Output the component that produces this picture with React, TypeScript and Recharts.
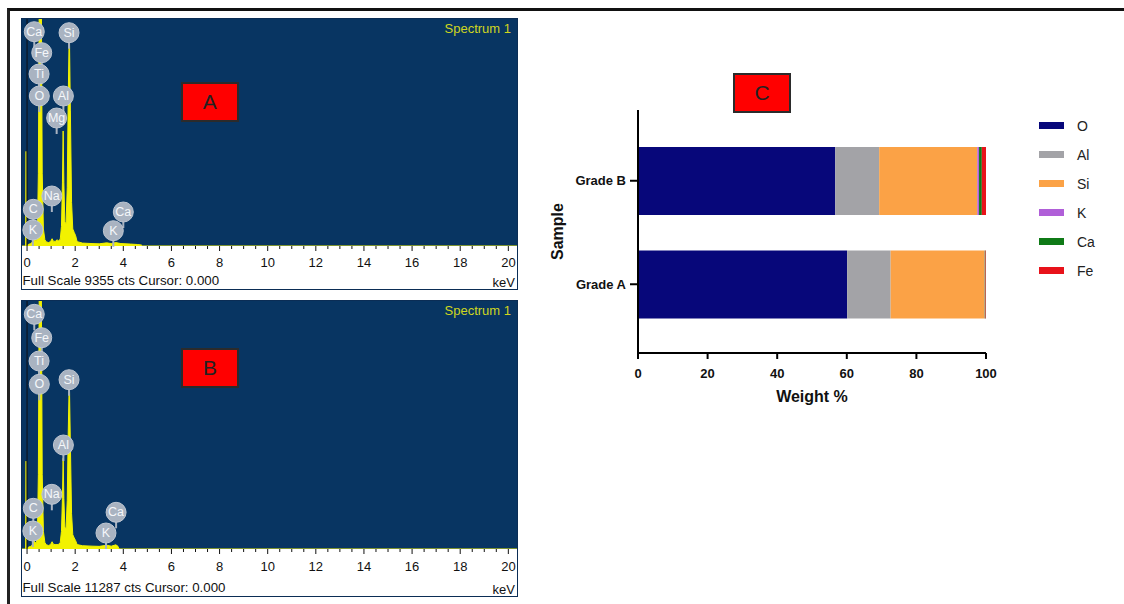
import React from 'react';
import {
  ComposedChart,
  Area,
  XAxis,
  YAxis,
  CartesianGrid,
  ReferenceDot,
  ReferenceLine,
  BarChart,
  Bar,
  Legend,
} from 'recharts';

// ---------- EDS spectra (keV, counts) ----------
const energyTicks = [
  0, 0.5, 1, 1.5, 2, 2.5, 3, 3.5, 4, 4.5, 5, 5.5, 6, 6.5, 7, 7.5, 8, 8.5, 9, 9.5, 10,
  10.5, 11, 11.5, 12, 12.5, 13, 13.5, 14, 14.5, 15, 15.5, 16, 16.5, 17, 17.5, 18, 18.5,
  19, 19.5, 20,
];
const energyLabels = [0, 2, 4, 6, 8, 10, 12, 14, 16, 18, 20];

const fullScaleA = 9355;
const fullScaleB = 11287;

const spectrumA: [number, number][] = [
  [-0.21, 0], [-0.06, 0], [-0.04, 3900], [-0.02, 0], [0.05, 60], [0.15, 100], [0.22, 160],
  [0.26, 420], [0.28, 720], [0.31, 300], [0.38, 220], [0.43, 500], [0.47, 3000], [0.5, 9000],
  [0.52, 13000], [0.58, 13000], [0.6, 9000], [0.63, 3000], [0.68, 700], [0.74, 260], [0.8, 170],
  [0.9, 140], [0.98, 190], [1.04, 300], [1.1, 190], [1.2, 200], [1.25, 260], [1.3, 210],
  [1.38, 280], [1.43, 800], [1.47, 2600], [1.5, 4740], [1.53, 2600], [1.57, 1000], [1.62, 900],
  [1.67, 2400], [1.71, 6000], [1.745, 8370], [1.765, 8370], [1.8, 5600], [1.85, 1800], [1.9, 700],
  [1.96, 560], [2.02, 420], [2.08, 180], [2.3, 120], [2.7, 100], [3.0, 90], [3.31, 130],
  [3.5, 100], [3.69, 140], [3.9, 100], [4.3, 80], [4.6, 60], [4.75, 40], [4.8, 0], [20.36, 0],
];

const spectrumB: [number, number][] = [
  [-0.21, 0], [-0.06, 0], [-0.04, 4000], [-0.02, 0], [0.05, 80], [0.15, 120], [0.22, 180],
  [0.26, 480], [0.28, 800], [0.31, 330], [0.38, 260], [0.43, 600], [0.47, 3400], [0.5, 10500],
  [0.52, 15000], [0.58, 15000], [0.6, 10500], [0.63, 3400], [0.68, 800], [0.74, 300], [0.8, 190],
  [0.9, 160], [0.98, 210], [1.04, 330], [1.1, 210], [1.2, 200], [1.3, 200], [1.38, 300],
  [1.43, 800], [1.47, 2300], [1.5, 4130], [1.53, 2300], [1.57, 1000], [1.62, 900], [1.67, 2200],
  [1.71, 5200], [1.745, 7160], [1.765, 7160], [1.8, 4800], [1.85, 1600], [1.9, 650], [1.96, 500],
  [2.02, 380], [2.08, 200], [2.3, 150], [2.7, 130], [3.0, 120], [3.31, 170], [3.5, 130],
  [3.69, 190], [3.78, 120], [3.82, 0], [20.36, 0],
];

// element badges: [element, keV, counts]
const badgesA: [string, number, number][] = [
  ['Ca', 0.3, 8832], ['Fe', 0.61, 7966], ['Ti', 0.5, 7088], ['O', 0.51, 6182],
  ['Al', 1.51, 6182], ['Mg', 1.23, 5275], ['Si', 1.745, 8790], ['Na', 1.03, 2060],
  ['C', 0.26, 1512], ['K', 0.24, 659], ['Ca', 4.0, 1401], ['K', 3.585, 630],
];
const badgesB: [string, number, number][] = [
  ['Ca', 0.3, 10681], ['Fe', 0.61, 9616], ['Ti', 0.5, 8556], ['O', 0.51, 7496],
  ['Si', 1.745, 7705], ['Al', 1.51, 4733], ['Na', 1.03, 2489], ['C', 0.26, 1852],
  ['K', 0.24, 819], ['Ca', 3.7, 1670], ['K', 3.28, 728],
];

// ---------- Weight % bar chart ----------
const samples = ['Grade B', 'Grade A'];
const elements = ['O', 'Al', 'Si', 'K', 'Ca', 'Fe'];
const elementColors = ['#07077a', '#a3a3a7', '#fba246', '#b05fd8', '#0f7a17', '#e8121a'];
const oWt = [56.7, 60.1];
const alWt = [12.6, 12.5];
const siWt = [28.2, 27.0];
const kWt = [0.5, 0.05];
const caWt = [0.8, 0.2];
const feWt = [1.2, 0.15];
const weightTicks = [0, 20, 40, 60, 80, 100];

const barData = samples.map((name, i) => ({
  name,
  O: oWt[i],
  Al: alWt[i],
  Si: siWt[i],
  K: kWt[i],
  Ca: caWt[i],
  Fe: feWt[i],
}));

const BLUE = '#083562';
const YELLOW = '#f2f200';
const FONT = "'Liberation Sans', Arial, Helvetica, sans-serif";

const EnergyTick = (props: any) => {
  const { x, y, payload, labelDy } = props;
  const v = payload.value;
  const isLabel = energyLabels.indexOf(v) >= 0;
  const last = v === 20;
  return (
    <g>
      <line x1={x} x2={x} y1={y} y2={y + (isLabel ? 5 : 3)} stroke="#111" strokeWidth={1} />
      {isLabel && (
        <text
          x={last ? x + 7.5 : x}
          y={y + labelDy}
          textAnchor={last ? 'end' : 'middle'}
          dominantBaseline="central"
          fontSize={13}
          fill="#111"
        >
          {v}
        </text>
      )}
    </g>
  );
};

const makeBadge = (el: string) => (p: any) => (
  <g>
    <line x1={p.cx} x2={p.cx} y1={p.cy + 8} y2={p.cy + 16} stroke="#a9b3c1" strokeWidth={2} />
    <circle cx={p.cx} cy={p.cy} r={10} fill="#a9b3c1" stroke="#bfc7d2" strokeWidth={1} />
    <text
      x={p.cx}
      y={p.cy}
      textAnchor="middle"
      dominantBaseline="central"
      fontSize={12.5}
      fill="#f5f7fa"
    >
      {el}
    </text>
  </g>
);

function SpectrumPanel(props: {
  left: number;
  top: number;
  width: number;
  height: number;
  plotHeight: number;
  fullScale: number;
  points: [number, number][];
  badges: [string, number, number][];
  labelDy: number;
}) {
  const { left, top, width, height, plotHeight, fullScale, points, badges, labelDy } = props;
  const data = points.map(([e, c]) => ({ e, c }));
  const innerW = width - 2;
  const innerH = height - 2;
  return (
    <div
      style={{
        position: 'absolute',
        left,
        top,
        width,
        height,
        border: '1px solid #0b2d55',
        boxSizing: 'border-box',
        background: '#fff',
      }}
    >
      <ComposedChart
        width={innerW}
        height={innerH}
        data={data}
        margin={{ top: 0, right: 0, bottom: 0, left: 0 }}
      >
        <CartesianGrid horizontal={false} vertical={false} fill={BLUE} stroke="none" />
        <XAxis
          type="number"
          dataKey="e"
          domain={[-0.21, 20.36]}
          allowDataOverflow
          ticks={energyTicks}
          interval={0}
          height={innerH - plotHeight}
          axisLine={false}
          tickLine={false}
          tickSize={0}
          tickMargin={0}
          tick={<EnergyTick labelDy={labelDy} />}
        />
        <YAxis hide type="number" dataKey="c" domain={[0, fullScale]} allowDataOverflow />
        <Area
          type="linear"
          dataKey="c"
          stroke={YELLOW}
          strokeWidth={1}
          fill={YELLOW}
          fillOpacity={1}
          dot={false}
          activeDot={false}
          isAnimationActive={false}
        />
        <ReferenceLine x={0} stroke="#0d1420" strokeWidth={1.2} />
        {badges.map(([el, e, c], i) => (
          <ReferenceDot key={i} x={e} y={c} r={10} shape={makeBadge(el)} />
        ))}
      </ComposedChart>
    </div>
  );
}

const renderLegend = () => (
  <div>
    {elements.map((el, i) => (
      <div key={el} style={{ height: 29.06, display: 'flex', alignItems: 'center' }}>
        <div style={{ width: 25, height: 7, background: elementColors[i] }} />
        <div style={{ marginLeft: 13, fontSize: 14, color: '#222', lineHeight: '14px' }}>{el}</div>
      </div>
    ))}
  </div>
);

const letterBox = (letter: string, left: number, top: number, width: number, height: number) => (
  <div
    style={{
      position: 'absolute',
      left,
      top,
      width,
      height,
      background: '#ff0000',
      border: '2px solid #2b2b2b',
      boxSizing: 'border-box',
      display: 'flex',
      alignItems: 'center',
      justifyContent: 'center',
      fontSize: 21,
      color: '#222',
    }}
  >
    {letter}
  </div>
);

export default function App() {
  return (
    <div
      style={{
        position: 'absolute',
        left: 0,
        top: 0,
        width: 1124,
        height: 604,
        background: '#fff',
        overflow: 'hidden',
        fontFamily: FONT,
      }}
    >
      {/* outer frame */}
      <div
        style={{
          position: 'absolute',
          left: 7,
          top: 8,
          width: 1117,
          height: 596,
          borderTop: '3px solid #111',
          borderLeft: '3px solid #222',
          boxSizing: 'border-box',
        }}
      />

      <SpectrumPanel
        left={21}
        top={18}
        width={497}
        height={272}
        plotHeight={227}
        fullScale={fullScaleA}
        points={spectrumA}
        badges={badgesA}
        labelDy={16.5}
      />
      <SpectrumPanel
        left={21}
        top={300}
        width={497}
        height={297}
        plotHeight={248}
        fullScale={fullScaleB}
        points={spectrumB}
        badges={badgesB}
        labelDy={17.5}
      />

      {/* spectrum texts */}
      <div style={{ position: 'absolute', left: 400, top: 21.6, width: 111, textAlign: 'right', fontSize: 13, lineHeight: '13px', color: '#cfd61f' }}>
        Spectrum 1
      </div>
      <div style={{ position: 'absolute', left: 400, top: 303.6, width: 111, textAlign: 'right', fontSize: 13, lineHeight: '13px', color: '#cfd61f' }}>
        Spectrum 1
      </div>
      <div style={{ position: 'absolute', left: 22.5, top: 273.8, fontSize: 13.3, lineHeight: '13.3px', color: '#111', whiteSpace: 'nowrap' }}>
        {`Full Scale ${fullScaleA} cts Cursor: 0.000`}
      </div>
      <div style={{ position: 'absolute', left: 22.5, top: 580.8, fontSize: 13.3, lineHeight: '13.3px', color: '#111', whiteSpace: 'nowrap' }}>
        {`Full Scale ${fullScaleB} cts Cursor: 0.000`}
      </div>
      <div style={{ position: 'absolute', left: 470, top: 276, width: 45, textAlign: 'right', fontSize: 13, lineHeight: '13px', color: '#111' }}>
        keV
      </div>
      <div style={{ position: 'absolute', left: 470, top: 582.6, width: 45, textAlign: 'right', fontSize: 13, lineHeight: '13px', color: '#111' }}>
        keV
      </div>

      {/* bar chart C */}
      <div style={{ position: 'absolute', left: 540, top: 60, width: 580, height: 360 }}>
        <BarChart
          layout="vertical"
          width={580}
          height={360}
          data={barData}
          margin={{ top: 50, right: 134, bottom: 37, left: 0 }}
          barSize={68}
        >
          <XAxis
            type="number"
            domain={[0, 100]}
            allowDataOverflow
            ticks={weightTicks}
            interval={0}
            height={30}
            tickSize={6}
            tickMargin={10}
            axisLine={{ stroke: '#000', strokeWidth: 2 }}
            tickLine={{ stroke: '#000', strokeWidth: 2 }}
            tick={{ fontSize: 13, fontWeight: 700, fill: '#111' }}
            label={{
              value: 'Weight %',
              position: 'bottom',
              offset: 8,
              fontSize: 16,
              fontWeight: 700,
              fill: '#111',
            }}
          />
          <YAxis
            type="category"
            dataKey="name"
            width={98}
            padding={{ top: 19, bottom: 17 }}
            tickSize={8}
            tickMargin={4}
            axisLine={{ stroke: '#000', strokeWidth: 2 }}
            tickLine={{ stroke: '#000', strokeWidth: 2 }}
            tick={{ fontSize: 13, fontWeight: 700, fill: '#111' }}
            label={{
              value: 'Sample',
              angle: -90,
              position: 'insideLeft',
              offset: 17,
              fontSize: 16,
              fontWeight: 700,
              fill: '#111',
              style: { textAnchor: 'middle' },
            }}
          />
          {elements.map((el, i) => (
            <Bar
              key={el}
              dataKey={el}
              stackId="w"
              fill={elementColors[i]}
              barSize={68}
              isAnimationActive={false}
            />
          ))}
          <Legend
            layout="vertical"
            align="center"
            verticalAlign="middle"
            wrapperStyle={{ top: 51.2, left: 499, width: 90 }}
            content={renderLegend}
          />
        </BarChart>
      </div>

      {/* letter boxes */}
      {letterBox('A', 181, 82, 57.7, 40)}
      {letterBox('B', 181, 348.3, 58, 39.4)}
      {letterBox('C', 732.7, 73.3, 58.6, 40)}
    </div>
  );
}
